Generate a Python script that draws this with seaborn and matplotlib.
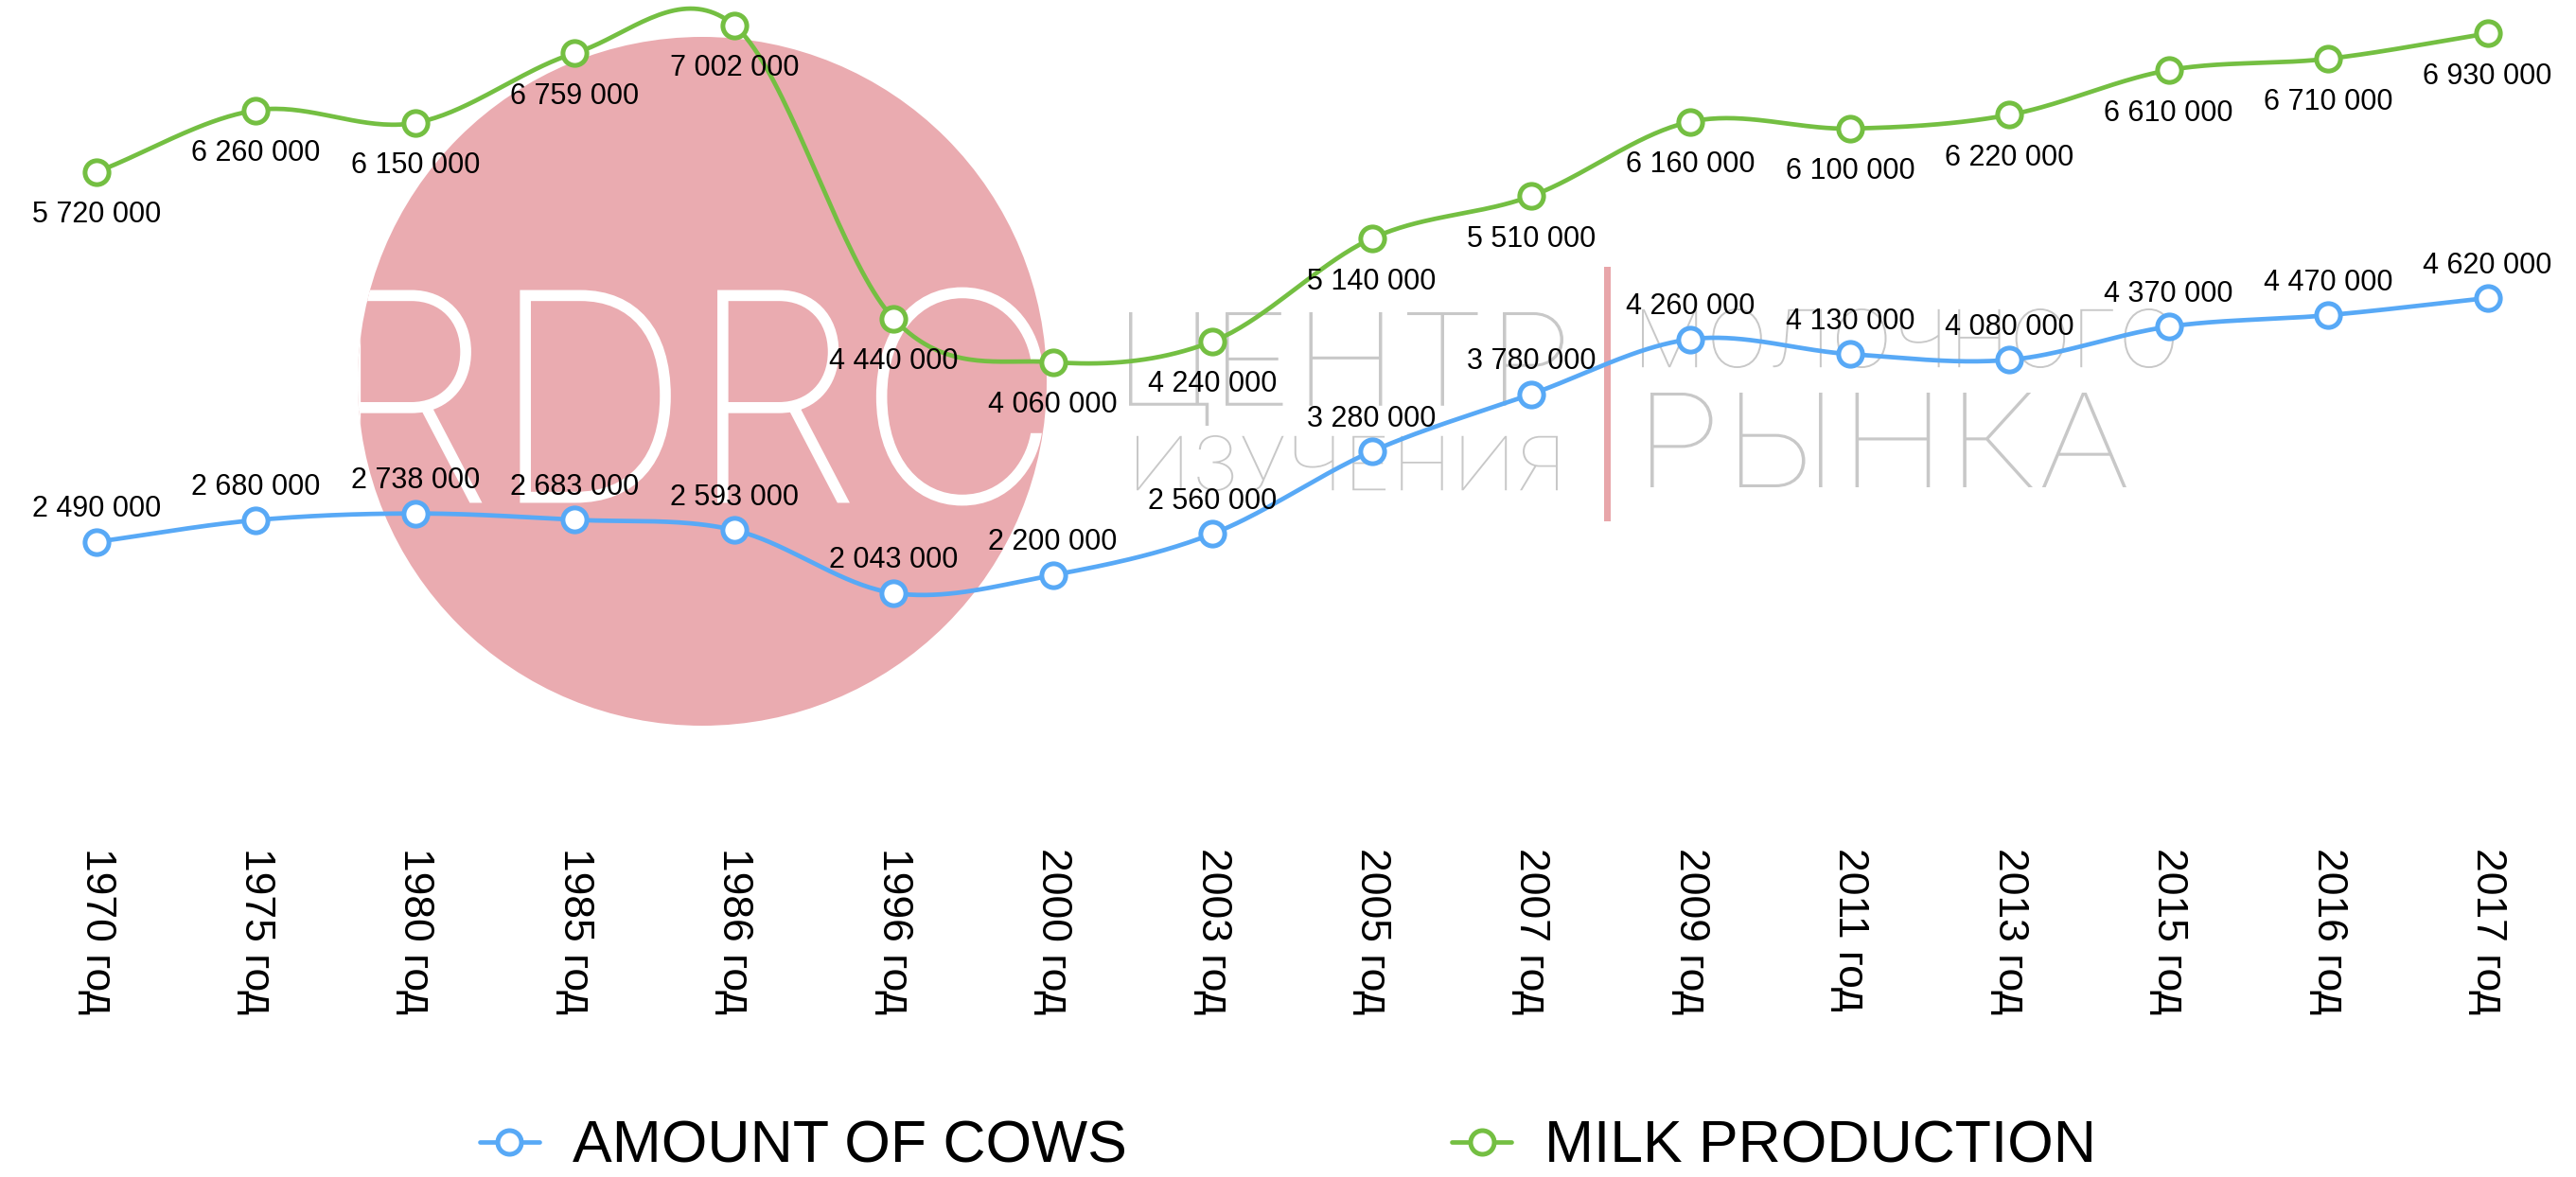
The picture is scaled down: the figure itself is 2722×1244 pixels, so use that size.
import numpy as np
import seaborn as sns
import matplotlib
matplotlib.use("Agg")
import matplotlib.pyplot as plt
import matplotlib.patheffects as pe
from matplotlib import font_manager as fm
from matplotlib.textpath import TextPath
from matplotlib.patches import PathPatch, Circle, Rectangle
from matplotlib.transforms import Affine2D, IdentityTransform
from matplotlib.lines import Line2D

# data
years = ["1970 год", "1975 год", "1980 год", "1985 год", "1986 год", "1996 год",
         "2000 год", "2003 год", "2005 год", "2007 год", "2009 год", "2011 год",
         "2013 год", "2015 год", "2016 год", "2017 год"]
cows = [2490000, 2680000, 2738000, 2683000, 2593000, 2043000, 2200000, 2560000,
        3280000, 3780000, 4260000, 4130000, 4080000, 4370000, 4470000, 4620000]
milk = [5720000, 6260000, 6150000, 6759000, 7002000, 4440000, 4060000, 4240000,
        5140000, 5510000, 6160000, 6100000, 6220000, 6610000, 6710000, 6930000]
series_names = ["AMOUNT OF COWS", "MILK PRODUCTION"]

BLUE = "#58a9f6"
GREEN = "#74bf42"
PINK = "#eaabb0"
GRAY = "#c8c8c8"

W, H = 2722, 1244

sns.set_style("white")
plt.rcParams["font.family"] = ["Liberation Sans", "DejaVu Sans"]
plt.rcParams["text.color"] = "black"
plt.rcParams["xtick.color"] = "black"


def smooth(xs, ys, n=40):
    # catmull-rom curve through the points, only for drawing the line shape
    pts = np.column_stack([xs, ys]).astype(float)
    ext = np.vstack([2 * pts[0] - pts[1], pts, 2 * pts[-1] - pts[-2]])
    t = np.linspace(0, 1, n, endpoint=False)[:, None]
    out = []
    for i in range(1, len(ext) - 2):
        p0, p1, p2, p3 = ext[i - 1:i + 3]
        out.append(0.5 * (2 * p1 + (-p0 + p2) * t
                          + (2 * p0 - 5 * p1 + 4 * p2 - p3) * t ** 2
                          + (-p0 + 3 * p1 - 3 * p2 + p3) * t ** 3))
    out.append(pts[-1:])
    return np.vstack(out)


def fmt(v):
    return f"{v:,}".replace(",", " ")


# thinnest installed font with cyrillic for the watermark
best = None
for f in fm.fontManager.ttflist:
    if f.name in ("Roboto", "Lato", "Open Sans", "Inter", "Noto Sans") and f.style == "normal":
        w = f.weight if isinstance(f.weight, int) else fm.weight_dict.get(f.weight, 400)
        if best is None or w < best[0]:
            best = (w, f.fname)
thin_prop = fm.FontProperties(fname=best[1]) if best else fm.FontProperties(family="DejaVu Sans")
thin_w = best[0] if best else 400


def wm_text(fig, s, box, color, bg, erode, zorder, clip=None, grow=0):
    x0, top, x1, bottom = box
    tp = TextPath((0, 0), s, size=100, prop=thin_prop)
    e = tp.get_extents()
    tr = (Affine2D().translate(-e.x0, -e.y0)
          .scale((x1 - x0) / e.width, (bottom - top) / e.height)
          .translate(x0, H - bottom))
    p = PathPatch(tr.transform_path(tp), transform=IdentityTransform(),
                  fc=color, ec="none", zorder=zorder)
    if thin_w > 250 and erode > 0:
        p.set_path_effects([pe.Stroke(linewidth=erode, foreground=bg)])
    elif grow > 0:
        p.set_path_effects([pe.Stroke(linewidth=grow, foreground=color)])
    fig.add_artist(p)
    if clip is not None:
        p.set_clip_path(clip)
    return p


fig = plt.figure(figsize=(W / 100, H / 100), dpi=100)
ax = fig.add_axes([17.8 / W, 1 - 874 / H, 2695 / W, 874 / H])
ax.set_facecolor("none")

# watermark
circle = Circle((742, H - 403), 364, transform=IdentityTransform(), fc=PINK, ec="none", zorder=-3)
fig.add_artist(circle)
wm_text(fig, "RDRC", (372, 306, 1098, 532), "white", PINK, 14, -2, clip=circle, grow=3.5)
wm_text(fig, "ЦЕНТР", (1193, 330, 1652, 450), GRAY, "white", 6, -2)
wm_text(fig, "ИЗУЧЕНИЯ", (1201, 460, 1646, 519), GRAY, "white", 4, -2)
wm_text(fig, "МОЛОЧНОГО", (1735, 326, 2297, 389), GRAY, "white", 4, -2)
wm_text(fig, "РЫНКА", (1744, 415, 2247, 515), GRAY, "white", 6, -2)
fig.add_artist(Rectangle((1695, H - 551), 7, 269, transform=IdentityTransform(),
                         fc="#e8a6aa", ec="none", zorder=-2))

idx = np.arange(len(years))
for vals, color in [(cows, BLUE), (milk, GREEN)]:
    curve = smooth(idx, vals)
    sns.lineplot(x=curve[:, 0], y=curve[:, 1], sort=False, color=color,
                 linewidth=3.4, ax=ax, zorder=2)
    sns.scatterplot(x=idx, y=vals, s=330, color="white", edgecolor=color,
                    linewidth=3.6, zorder=3, ax=ax, clip_on=False)

for i, v in enumerate(milk):
    ax.annotate(fmt(v), (i, v), xytext=(0, -38.5), textcoords="offset points",
                ha="center", va="baseline", fontsize=22, color="black", zorder=4)
for i, v in enumerate(cows):
    ax.annotate(fmt(v), (i, v), xytext=(0, 19), textcoords="offset points",
                ha="center", va="baseline", fontsize=22, color="black", zorder=4)

ax.set_xlim(-0.5, 15.5)
ax.set_ylim(0, 7.223e6)
ax.set_xticks(idx, years, rotation=270, fontsize=32)
ax.set_yticks([])
ax.tick_params(axis="x", length=0, pad=16, labelcolor="black")
ax.set_xlabel("")
ax.set_ylabel("")
sns.despine(ax=ax, left=True, bottom=True)

handles = [Line2D([0], [0], color=c, lw=3.4, marker="o", markersize=18,
                  markerfacecolor="white", markeredgecolor=c, markeredgewidth=3.6)
           for c in (BLUE, GREEN)]
fig.legend(handles, series_names, loc="center", bbox_to_anchor=(0.5, 32 / H),
           ncol=2, frameon=False, fontsize=45, handlelength=1.0, labelcolor="black",
           handletextpad=0.56, columnspacing=5.5, borderpad=0)

fig.savefig("out.png", dpi=100, facecolor="white")
